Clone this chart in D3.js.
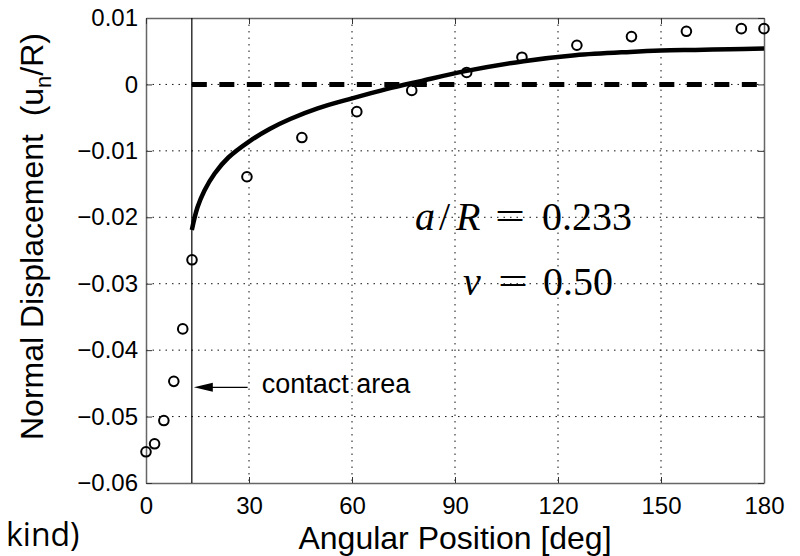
<!DOCTYPE html>
<html>
<head>
<meta charset="utf-8">
<script src="https://cdn.jsdelivr.net/npm/d3@7/dist/d3.min.js"></script>
<style>
  body { margin: 0; background: #fff; }
  svg { display: block; }
</style>
</head>
<body>
<div id="chart"></div>
<script>
// measured points (circles)
const measAngle = [0, 2.5, 5.2, 8.1, 10.7, 13.4, 29.4, 45.4, 61.4, 77.4, 93.4, 109.5, 125.5, 141.4, 157.4, 173.4, 180];
const measDisp = [-0.0553, -0.0541, -0.0506, -0.0447, -0.0368, -0.0264, -0.0139, -0.0080, -0.0041, -0.0009, 0.0018, 0.0041, 0.0059, 0.0072, 0.0080, 0.0084, 0.0084];

// theory curve (solid line), starts at the contact edge
const theoryAngle = [13.35, 15, 17, 20, 24, 30, 36, 42, 50, 60, 70, 80, 93, 110, 125, 141, 150, 160, 170, 180];
const theoryDisp = [-0.0219, -0.0185, -0.0160, -0.0134, -0.0110, -0.0086, -0.0067, -0.0052, -0.0036, -0.0021, -0.0007, 0.0005, 0.0020, 0.0035, 0.0044, 0.0049, 0.0051, 0.0052, 0.0053, 0.0054];

const xTicks = [0, 30, 60, 90, 120, 150, 180];
const yTicks = [-0.06, -0.05, -0.04, -0.03, -0.02, -0.01, 0, 0.01];

const contactAngle = 13.35;
const arrowY = -0.0456;
const arrowTail = 29.6;

const width = 800;
const height = 556;
const margin = { top: 18, right: 36, bottom: 73, left: 146 };
const w = width - margin.left - margin.right;
const h = height - margin.top - margin.bottom;

const svg = d3
  .select("#chart")
  .append("svg")
  .attr("width", width)
  .attr("height", height);

const g = svg
  .append("g")
  .attr("transform", `translate(${margin.left},${margin.top})`);

const x = d3.scaleLinear().domain([0, 180]).range([0, w]);
const y = d3.scaleLinear().domain([-0.06, 0.01]).range([h, 0]);

// dotted grid
g.selectAll(".gx")
  .data(xTicks.slice(1, -1))
  .enter()
  .append("line")
  .attr("x1", (d) => x(d))
  .attr("x2", (d) => x(d))
  .attr("y1", 0)
  .attr("y2", h)
  .attr("stroke", "#111")
  .attr("stroke-width", 1)
  .attr("stroke-dasharray", "1.5,5");

g.selectAll(".gy")
  .data(yTicks.slice(1, -1))
  .enter()
  .append("line")
  .attr("x1", 0)
  .attr("x2", w)
  .attr("y1", (d) => y(d))
  .attr("y2", (d) => y(d))
  .attr("stroke", "#111")
  .attr("stroke-width", 1)
  .attr("stroke-dasharray", "1.5,5");

// axes, ticks pointing inward
const fmt = (d) => (d === 0 ? "0" : d3.format(".2f")(d));

const styleAxis = (sel) => {
  sel.select(".domain").attr("stroke", "#666").attr("stroke-width", 1.5);
  sel.selectAll(".tick line").attr("stroke", "#333");
  sel.selectAll("text")
    .attr("fill", "#000")
    .style("font-family", "'Liberation Sans', Arial, sans-serif")
    .style("font-size", "24px");
};

g.append("g")
  .attr("transform", `translate(0,${h})`)
  .call(d3.axisBottom(x).tickValues(xTicks).tickSize(-6).tickSizeOuter(0).tickPadding(14))
  .call(styleAxis);

g.append("g")
  .call(d3.axisLeft(y).tickValues(yTicks).tickFormat(fmt).tickSize(-6).tickSizeOuter(0).tickPadding(8))
  .call(styleAxis);

g.append("g")
  .call(d3.axisTop(x).tickValues(xTicks).tickFormat("").tickSize(-6).tickSizeOuter(0))
  .call(styleAxis);

g.append("g")
  .attr("transform", `translate(${w},0)`)
  .call(d3.axisRight(y).tickValues(yTicks).tickFormat("").tickSize(-6).tickSizeOuter(0))
  .call(styleAxis);

// contact edge
g.append("line")
  .attr("x1", x(contactAngle))
  .attr("x2", x(contactAngle))
  .attr("y1", 0)
  .attr("y2", h)
  .attr("stroke", "#000")
  .attr("stroke-width", 1.2);

// zero reference
g.append("line")
  .attr("x1", x(contactAngle))
  .attr("x2", x(180))
  .attr("y1", y(0))
  .attr("y2", y(0))
  .attr("stroke", "#000")
  .attr("stroke-width", 5)
  .attr("stroke-dasharray", "15,12.5");

// theory curve
const theory = theoryAngle.map((a, i) => [a, theoryDisp[i]]);
g.append("path")
  .datum(theory)
  .attr("fill", "none")
  .attr("stroke", "#000")
  .attr("stroke-width", 4.5)
  .attr("d", d3.line().x((d) => x(d[0])).y((d) => y(d[1])).curve(d3.curveCatmullRom.alpha(0.5)));

// measured points
const meas = measAngle.map((a, i) => [a, measDisp[i]]);
g.selectAll(".pt")
  .data(meas)
  .enter()
  .append("circle")
  .attr("cx", (d) => x(d[0]))
  .attr("cy", (d) => y(d[1]))
  .attr("r", 4.8)
  .attr("fill", "none")
  .attr("stroke", "#000")
  .attr("stroke-width", 2);

// contact area arrow
const tipX = x(contactAngle) + 2;
const ay = y(arrowY);
g.append("line")
  .attr("x1", tipX + 18)
  .attr("x2", x(arrowTail))
  .attr("y1", ay)
  .attr("y2", ay)
  .attr("stroke", "#000")
  .attr("stroke-width", 1.2);
g.append("path")
  .attr("d", `M${tipX},${ay} L${tipX + 19},${ay - 4.5} L${tipX + 19},${ay + 4.5} Z`)
  .attr("fill", "#000");
g.append("text")
  .attr("x", x(arrowTail) + 14)
  .attr("y", ay + 6)
  .style("font-family", "'Liberation Sans', Arial, sans-serif")
  .style("font-size", "27px")
  .text("contact area");

// parameters
const math = svg
  .append("g")
  .style("font-family", "'Liberation Serif', 'DejaVu Serif', serif")
  .style("font-size", "40px");

const line1 = math.append("text").attr("y", 230);
line1.append("tspan").attr("x", 415).style("font-style", "italic").text("a");
line1.append("tspan").attr("x", 439).text("/");
line1.append("tspan").attr("x", 456).style("font-style", "italic").text("R");
line1.append("tspan").attr("x", 495).attr("textLength", 30).attr("lengthAdjust", "spacingAndGlyphs").text("=");
line1.append("tspan").attr("x", 542).text("0.233");

const line2 = math.append("text").attr("y", 295);
line2.append("tspan").attr("x", 463).style("font-style", "italic").text("ν");
line2.append("tspan").attr("x", 498).attr("textLength", 30).attr("lengthAdjust", "spacingAndGlyphs").text("=");
line2.append("tspan").attr("x", 543).text("0.50");

// axis titles
svg.append("text")
  .attr("x", margin.left + w / 2)
  .attr("y", 549)
  .attr("text-anchor", "middle")
  .style("font-family", "'Liberation Sans', Arial, sans-serif")
  .style("font-size", "32px")
  .text("Angular Position [deg]");

const yl = svg
  .append("text")
  .attr("transform", "translate(43,440) rotate(-90)")
  .style("font-family", "'Liberation Sans', Arial, sans-serif")
  .style("font-size", "32px");
yl.append("tspan").text("Normal Displacement\u00a0\u00a0(u");
yl.append("tspan").attr("dy", 8).style("font-size", "22px").text("n");
yl.append("tspan").attr("dy", -8).text("/R)");

// caption fragment at the bottom edge
svg.append("text")
  .attr("x", 6)
  .attr("y", 546)
  .style("font-family", "'Open Sans', sans-serif")
  .style("font-size", "32px")
  .text("kind)");
</script>
</body>
</html>
